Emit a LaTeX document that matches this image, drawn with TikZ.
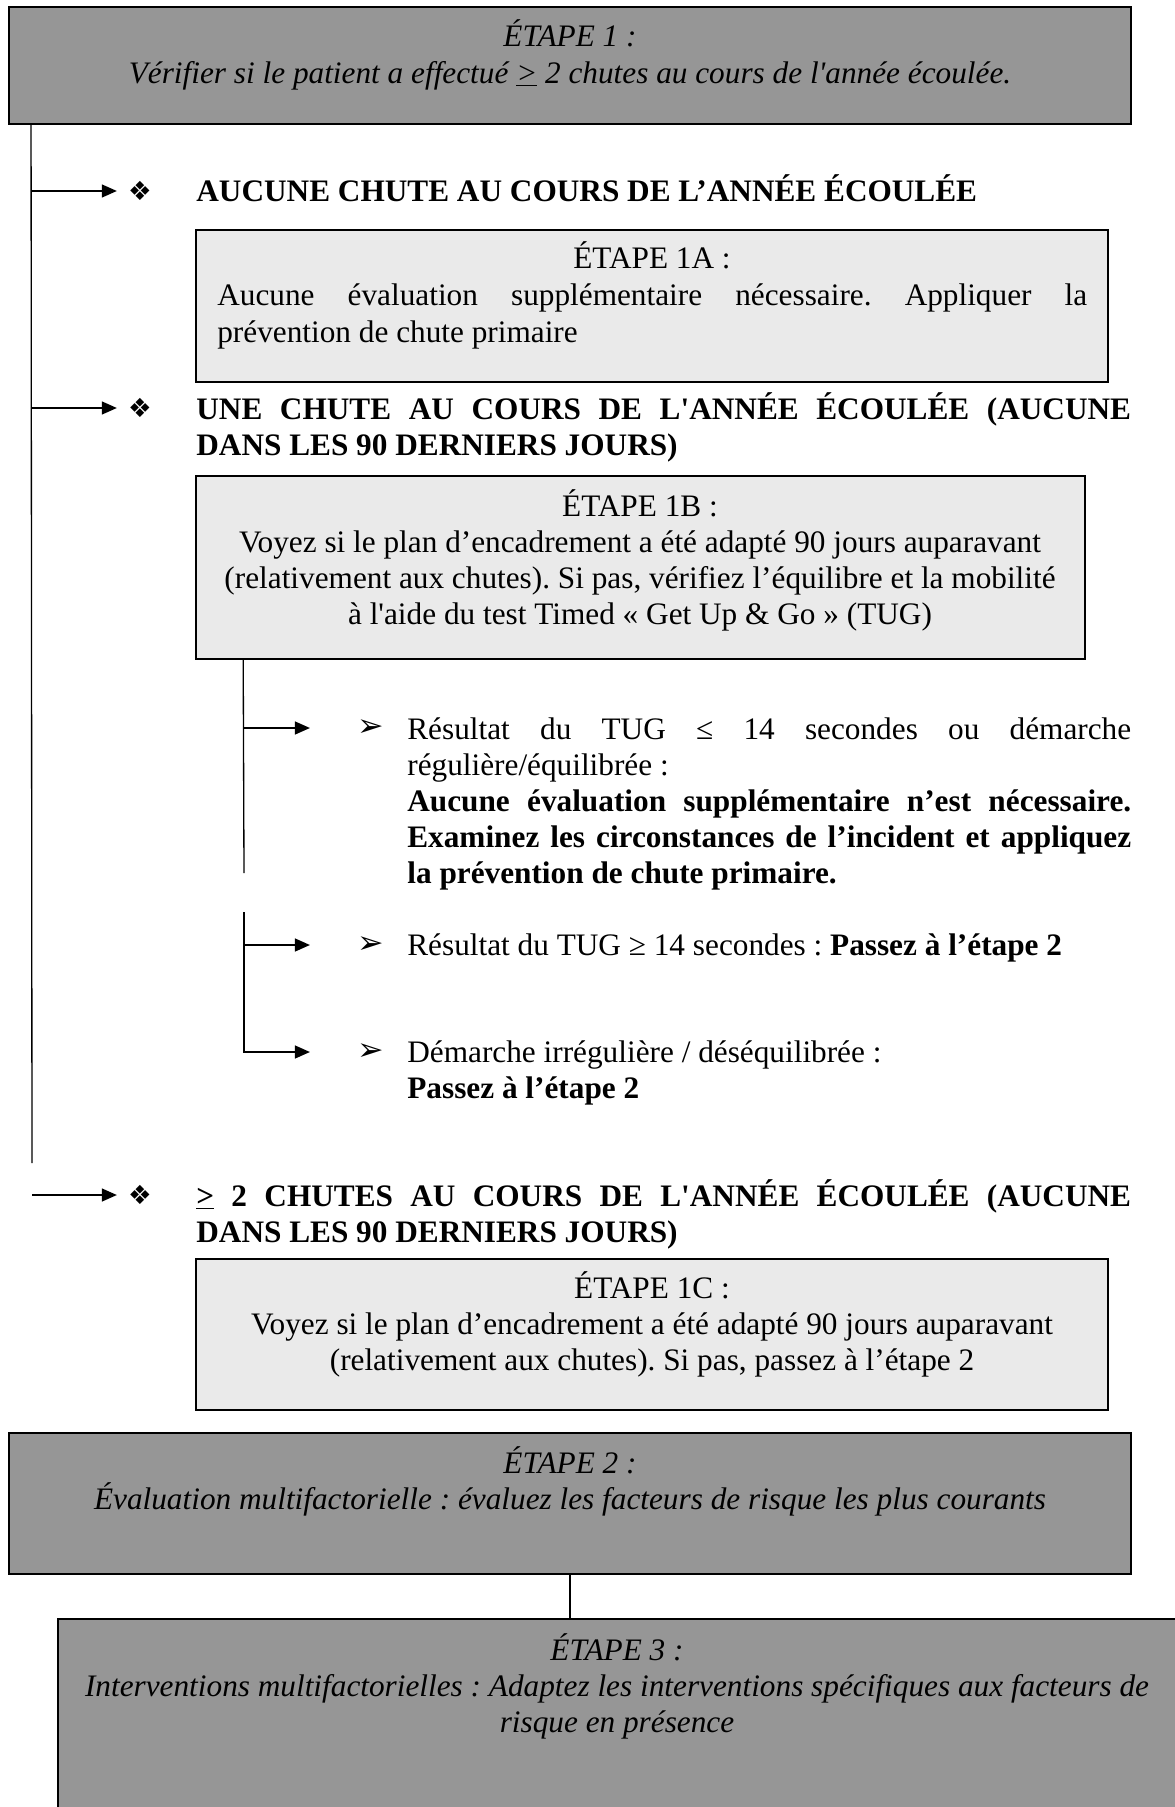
\documentclass[tikz,border=0pt]{standalone}
\usepackage{fontspec}
\setmainfont{Liberation Serif}[Ligatures=TeXOff]
\newfontfamily\dingfont{DejaVu Sans}
\usetikzlibrary{positioning, arrows.meta}
\definecolor{stepgrey}{RGB}{150,150,150}
\definecolor{boxgrey}{RGB}{234,234,234}
\frenchspacing

\tikzset{
    darkbox/.style={draw=black, line width=1.2pt, fill=stepgrey, inner sep=0pt},
    lightbox/.style={draw=black, line width=1pt, fill=boxgrey, inner sep=0pt},
    txt/.style={inner sep=0pt, font=\fontsize{17.8pt}{20.5pt}\selectfont},
    boxtxt/.style={txt, anchor=base, text width=21.5cm, align=flush center},
    steptxt/.style={boxtxt, font=\fontsize{17.8pt}{20.5pt}\selectfont\itshape},
    headtxt/.style={txt, anchor=base west, text width=18.7cm, align=justify, font=\fontsize{17.8pt}{20.5pt}\selectfont\bfseries},
    itemtxt/.style={txt, anchor=base west, text width=14.48cm, align=justify},
    diam/.style={inner sep=0pt, font=\dingfont\fontsize{15pt}{15pt}\selectfont},
    tri/.style={inner sep=0pt, font=\dingfont\bfseries\fontsize{18pt}{18pt}\selectfont},
    conn/.style={line width=0.75pt},
    arr/.style={conn, -{Triangle[length=0.3cm, width=0.26cm]}}
}

\begin{document}
\begin{tikzpicture}[x=0.02cm, y=-0.02cm]
    \useasboundingbox (0,0) rectangle (1175,1807);

    % step boxes
    \node[darkbox, minimum width=22.44cm, minimum height=2.34cm] (s1box) at (570,65.5) {};
    \node[lightbox, minimum width=18.24cm, minimum height=3.04cm] (a1box) at (652,306) {};
    \node[lightbox, minimum width=17.78cm, minimum height=3.66cm] (b1box) at (640.5,567.5) {};
    \node[lightbox, minimum width=18.24cm, minimum height=3.02cm] (c1box) at (652,1334.5) {};
    \node[darkbox, minimum width=22.44cm, minimum height=2.82cm] (s2box) at (570,1503.5) {};
    \node[darkbox, minimum width=22.84cm, minimum height=4.42cm] (s3box) at (629,1729.5) {};

    % step texts
    \node[steptxt] (s1) at (570,47) {ÉTAPE 1 :\\Vérifier si le patient a effectué \underline{>} 2 chutes au cours de l'année écoulée.};
    \node[txt, anchor=base] (a1t) at (652,269) {ÉTAPE 1A :};
    \node[txt, anchor=base west, text width=17.4cm, align=justify] (a1) at (217,306)
        {Aucune évaluation supplémentaire nécessaire. Appliquer la\linebreak prévention de chute primaire};
    \node[boxtxt] (b1) at (640,516)
        {ÉTAPE 1B :\\Voyez si le plan d’encadrement a été adapté 90 jours auparavant\\(relativement aux chutes). Si pas, vérifiez l’équilibre et la mobilité\\à l'aide du test Timed « Get Up \& Go » (TUG)};
    \node[boxtxt] (c1) at (652,1298)
        {ÉTAPE 1C :\\Voyez si le plan d’encadrement a été adapté 90 jours auparavant\\(relativement aux chutes). Si pas, passez à l’étape 2};
    \node[steptxt] (s2) at (570,1473) {ÉTAPE 2 :\\Évaluation multifactorielle : évaluez les facteurs de risque les plus courants};
    \node[steptxt] (s3) at (617,1660) {ÉTAPE 3 :\\Interventions multifactorielles : Adaptez les interventions spécifiques aux facteurs de\\risque en présence};

    % headings
    \node[diam] (d1) at (140,191) {❖};
    \node[diam] (d2) at (140,408) {❖};
    \node[diam] (d3) at (140,1195) {❖};
    \node[headtxt] (h1) at (196,202) {AUCUNE CHUTE AU COURS DE L’ANNÉE ÉCOULÉE};
    \node[headtxt] (h2) at (196,419) {UNE CHUTE AU COURS DE L'ANNÉE ÉCOULÉE (AUCUNE\linebreak DANS LES 90 DERNIERS JOURS)};
    \node[headtxt] (h3) at (196,1206) {\underline{>} 2 CHUTES AU COURS DE L'ANNÉE ÉCOULÉE (AUCUNE\linebreak DANS LES 90 DERNIERS JOURS)};

    % TUG results
    \node[tri] (p1) at (371,728) {➢};
    \node[tri] (p2) at (371,945) {➢};
    \node[tri] (p3) at (371,1052) {➢};
    \node[itemtxt] (i1) at (407,739) {Résultat du TUG ≤ 14 secondes ou démarche\linebreak régulière/équilibrée :\\
        \textbf{Aucune évaluation supplémentaire n’est nécessaire.\linebreak Examinez les circonstances de l’incident et appliquez\linebreak la prévention de chute primaire.}};
    \node[itemtxt] (i2) at (407,955) {Résultat du TUG ≥ 14 secondes : \textbf{Passez à l’étape 2}};
    \node[itemtxt] (i3) at (407,1062) {Démarche irrégulière / déséquilibrée :\\\textbf{Passez à l’étape 2}};

    % main branch
    \coordinate (tA) at ([xshift=0.46cm]s1box.south west);
    \coordinate (tB) at (32,1163);
    \draw[conn] (tA) -- (tB);
    \draw[arr, shorten >=0.22cm] (tA |- d1) -- (d1.west);
    \draw[arr, shorten >=0.22cm] (tA |- d2) -- (d2.west);
    \draw[arr, shorten >=0.22cm] (tB |- d3) -- (d3.west);

    % TUG branch
    \coordinate (sA) at ([xshift=0.96cm]b1box.south west);
    \coordinate (sB) at (244,873);
    \coordinate (sC) at (244,912);
    \draw[conn] (sA) -- (sB);
    \draw[arr, shorten >=0.95cm] (sA |- p1) -- (p1.west);
    \draw[arr, shorten >=0.95cm] (sC |- p2) -- (p2.west);
    \draw[arr, shorten >=0.95cm] (sC) |- (p3.west);

    % step 2 to step 3
    \draw[conn] (s2box.south) -- (s2box.south |- s3box.north);
\end{tikzpicture}
\end{document}
